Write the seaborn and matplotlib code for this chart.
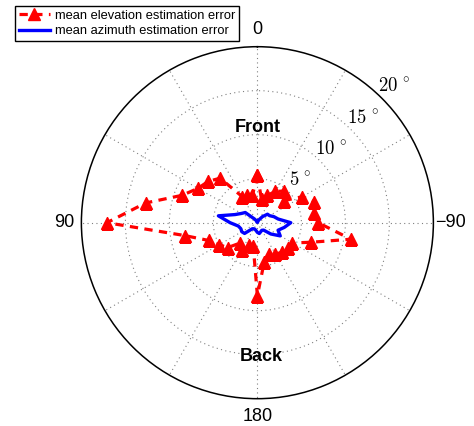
import numpy as np
import matplotlib
matplotlib.use("Agg")
import matplotlib.pyplot as plt
import seaborn as sns

# ---- data ----
azimuth_deg = [0, 10, 20, 30, 40, 50, 60, 70, 80, 90, 100, 110, 120, 130, 140, 150, 160, 170, 180,
               -170, -160, -150, -140, -130, -120, -110, -100, -90, -80, -70, -60, -50, -40, -30, -20, -10]
elevation_error = [5.4, 3.2, 3.3, 3.4, 6.6, 7.3, 7.8, 9.1, 12.9, 17.1, 8.4, 5.9, 5.0, 4.4, 3.0, 3.6, 2.7, 2.7, 8.3,
                   4.5, 3.8, 4.1, 4.4, 4.5, 4.6, 6.5, 10.8, 6.9, 6.5, 6.9, 5.9, 3.9, 4.7, 4.1, 3.3, 2.7]
azimuth_error = [0.1, 0.1, 0.15, 0.3, 0.6, 1.8, 2.1, 2.7, 4.5, 3.1, 2.2, 2.0, 2.05, 1.9, 0.9, 0.8, 0.8, 0.9, 1.1,
                 1.25, 1.1, 1.0, 1.1, 2.0, 3.0, 2.5, 3.1, 3.8, 2.4, 2.0, 1.6, 1.5, 0.9, 0.4, 0.2, 0.1]
series_labels = ["mean elevation estimation error", "mean azimuth estimation error"]
theta_label_angles = [0, 90, 180, -90]
theta_label_texts = ["0", "90", "180", "\u221290"]
radial_ticks = [5, 10, 15, 20]
radial_tick_labels = [r"$5\;^{\circ}$", r"$10\;^{\circ}$", r"$15\;^{\circ}$", r"$20\;^{\circ}$"]
region_labels = ["Front", "Back"]

plt.rcParams["font.family"] = ["Liberation Sans", "DejaVu Sans"]
plt.rcParams["mathtext.fontset"] = "cm"

fig = plt.figure(figsize=(4.74, 4.26), dpi=100)
ax = fig.add_axes([0.1717, 0.0641, 0.7426, 0.8263], projection="polar")
ax.set_theta_zero_location("N")
ax.set_theta_direction(1)

th = np.deg2rad(azimuth_deg + azimuth_deg[:1])
sns.lineplot(x=th, y=elevation_error + elevation_error[:1], ax=ax, sort=False, estimator=None,
             color="red", linewidth=2.3, linestyle=(0, (2.6, 2.0)), marker="^", markersize=8.5,
             markeredgecolor="red", markeredgewidth=1, label=series_labels[0], zorder=3)
sns.lineplot(x=th, y=azimuth_error + azimuth_error[:1], ax=ax, sort=False, estimator=None,
             color="blue", linewidth=2.4, linestyle="-", label=series_labels[1], zorder=4)

ax.set_ylim(0, 20)
ax.set_yticks(radial_ticks[:-1])
ax.set_yticklabels([])
ax.set_xticks(np.deg2rad(np.arange(0, 360, 30)))
ax.set_xticklabels([])
ax.set_xlabel("")
ax.set_ylabel("")
ax.grid(True, linestyle=(0, (1, 3)), color="0.5", linewidth=0.8)
ax.spines["polar"].set_color("black")
ax.spines["polar"].set_linewidth(1.1)

for a, t in zip(theta_label_angles, theta_label_texts):
    ax.text(np.deg2rad(a), 22.0, t, ha="center", va="center", fontsize=13, clip_on=False)

for r, t in zip(radial_ticks, radial_tick_labels):
    ax.text(np.deg2rad(-45), r + 1.9, t, ha="center", va="center", fontsize=13.5, clip_on=False)

ax.text(0, 10.8, region_labels[0], ha="center", va="center", fontsize=13, fontweight="bold")
ax.text(np.deg2rad(-178.2), 15.2, region_labels[1], ha="center", va="center", fontsize=13, fontweight="bold")

leg = ax.legend(loc="upper left", bbox_to_anchor=(15 / 474, 1 - 6 / 426), bbox_transform=fig.transFigure,
                fontsize=9.3, fancybox=False, framealpha=1, edgecolor="black", handlelength=2.4,
                borderpad=0.3, labelspacing=0.25, handletextpad=0.4, borderaxespad=0)
leg.get_frame().set_linewidth(1.0)

fig.savefig("out.png", dpi=100)
